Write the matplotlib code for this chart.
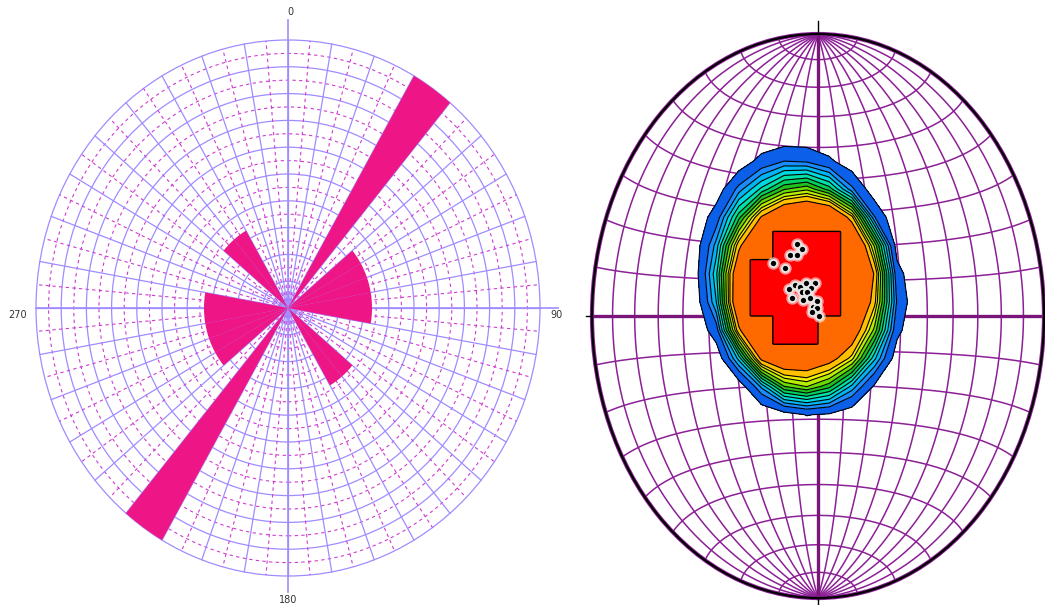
import numpy as np
import matplotlib
matplotlib.use('Agg')
import matplotlib.pyplot as plt
from matplotlib.patches import Wedge, Circle

# ---------------- Rose diagram data (10 degree bins, bidirectional) ----------------
bin_width = 10
counts_0_180 = [0, 0, 0, 3, 0, 1, 1, 1, 1, 1, 0, 0, 0, 1, 1, 0, 0, 0]
rose_counts = counts_0_180 + counts_0_180          # 0..360
rose_max = 3
axis_labels = ['0', '90', '180', '270']

# ---------------- Stereonet poles (projected coords, unit primitive) ----------------
pole_x = [-0.092, -0.072, -0.124, -0.095, -0.199, -0.148, -0.127, -0.102, -0.080,
          -0.054, -0.013, -0.031, -0.072, -0.050, -0.116, -0.065, -0.035, -0.003,
          -0.021, -0.006, 0.004, -0.027]
pole_y = [0.257, 0.238, 0.215, 0.215, 0.189, 0.170, 0.095, 0.110, 0.104,
          0.118, 0.116, 0.098, 0.086, 0.086, 0.063, 0.057, 0.065, 0.053,
          0.031, 0.027, 0.000, 0.014]
contour_levels = [10, 19, 24, 29, 34, 39, 44, 49, 54, 59, 63, 70]
red_level = 97
contour_colors = ['#0b5fe8', '#1a8cff', '#00b4f5', '#00d8e0', '#00e0a8', '#00d060',
                  '#20c020', '#66dd00', '#b8ee00', '#f0f000', '#ffc000', '#ff6a00']
red_color = '#ff0000'

fig = plt.figure(figsize=(10.45, 6.05), dpi=100)

# =============================== LEFT: rose diagram ===============================
cx, cy, rx, ry = 288, 308, 252, 268
ax1 = fig.add_axes([0, 0, 576 / 1045, 1])
ax1.set_xlim(-cx / rx, (576 - cx) / rx)
ax1.set_ylim(-(605 - cy) / ry, cy / ry)
ax1.axis('off')

solid_c = '#a08cff'
dash_c = '#d03cd0'
dash_style = (0, (3, 3))

for r in np.arange(0.05, 1.0, 0.1):
    ax1.add_patch(Circle((0, 0), r, fill=False, ec=dash_c, lw=0.8, ls=dash_style))
for a in np.arange(5, 360, 10):
    t = np.radians(a)
    ax1.plot([0, np.sin(t)], [0, np.cos(t)], color=dash_c, lw=0.8, ls=dash_style)
for r in np.arange(0.1, 1.01, 0.1):
    ax1.add_patch(Circle((0, 0), r, fill=False, ec=solid_c, lw=0.9))
for a in np.arange(0, 360, 10):
    t = np.radians(a)
    ax1.plot([0, np.sin(t)], [0, np.cos(t)], color=solid_c, lw=0.9)

# axis lines
ax1.plot([0, 0], [-1.06, 1.075], color=solid_c, lw=1.2)
ax1.plot([-1.0, 1.07], [0, 0], color=solid_c, lw=1.2)

for i, c in enumerate(rose_counts):
    if c <= 0:
        continue
    a1 = i * bin_width
    a2 = a1 + bin_width
    ax1.add_patch(Wedge((0, 0), c / rose_max, 90 - a2, 90 - a1,
                        facecolor='#ee1587', edgecolor='none', zorder=5))

lab_pos = [(0.008, 1.105), (1.067, -0.025), (0.0, -1.09), (-1.075, -0.026)]
for lab, (x, y) in zip(axis_labels, lab_pos):
    ax1.text(x, y, lab, fontsize=7, color='#333333', ha='center', va='center')

# =============================== RIGHT: stereonet ===============================
scx, scy, srx, sry = 818, 316, 226, 282
ax2 = fig.add_axes([580 / 1045, 0, 465 / 1045, 1])
ax2.set_xlim((580 - scx) / srx, (1045 - scx) / srx)
ax2.set_ylim(-(605 - scy) / sry, scy / sry)
ax2.axis('off')


def eq_area(lon, lat):
    lam = np.radians(lon)
    phi = np.radians(lat)
    k = np.sqrt(2.0 / (1.0 + np.cos(phi) * np.cos(lam)))
    return k * np.cos(phi) * np.sin(lam) / np.sqrt(2), k * np.sin(phi) / np.sqrt(2)


grid_c = '#8c2096'
lat_line = np.linspace(-90, 90, 361)
lon_line = np.linspace(-90, 90, 361)
for lon in range(-80, 81, 10):
    if lon == 0:
        continue
    x, y = eq_area(np.full_like(lat_line, lon), lat_line)
    ax2.plot(x, y, color=grid_c, lw=1.1)
for lat in range(-80, 81, 10):
    if lat == 0:
        continue
    x, y = eq_area(lon_line, np.full_like(lon_line, lat))
    ax2.plot(x, y, color=grid_c, lw=1.1)
ax2.plot([-1, 1], [0, 0], color='#7a157a', lw=2.4)
ax2.plot([0, 0], [-1, 1], color='#7a157a', lw=2.4)

# density on coarse counting grid
px = np.array(pole_x)
py = np.array(pole_y)
g = np.arange(-0.95, 0.951, 0.1)
GX, GY = np.meshgrid(g, g)
R, s = 0.36, 0.05
D = np.sqrt((GX[..., None] - px) ** 2 + (GY[..., None] - py) ** 2)
F = (0.5 * (1 - np.tanh((D - R) / s))).sum(axis=-1) / len(px) * 100

lev = contour_levels + [1000]
ax2.contourf(GX, GY, F, levels=lev, colors=contour_colors, zorder=3)
ax2.contour(GX, GY, F, levels=contour_levels, colors='k', linewidths=0.8, zorder=4)

# red cells (nearest-neighbour blocks)
mask = (F >= red_level).astype(float)
up = 20
fine = np.kron(mask, np.ones((up, up)))
fg = (np.arange(len(g) * up) + 0.5) / up * 0.1 + (g[0] - 0.05)
FX, FY = np.meshgrid(fg, fg)
ax2.contourf(FX, FY, fine, levels=[0.5, 1.5], colors=[red_color], zorder=5)
ax2.contour(FX, FY, fine, levels=[0.5], colors='k', linewidths=1.0, zorder=6)

# poles
ax2.plot(px, py, 'o', ms=9, color='white', alpha=0.55, mec='none', zorder=7)
ax2.plot(px, py, 'o', ms=5.2, mfc='black', mec='#e6e6e6', mew=1.4, zorder=8)

# primitive
ax2.add_patch(Circle((0, 0), 1, fill=False, ec=grid_c, lw=3.0, zorder=9))
ax2.add_patch(Circle((0, 0), 1, fill=False, ec='black', lw=1.6, zorder=10))
ax2.plot([0, 0], [1.0, 1.045], color='black', lw=1.0, zorder=10)
ax2.plot([0, 0], [-1.0, -1.045], color='black', lw=1.0, zorder=10)
ax2.plot([-1.0, -1.025], [0, 0], color='black', lw=1.0, zorder=10)

fig.savefig('out.png', dpi=100)
